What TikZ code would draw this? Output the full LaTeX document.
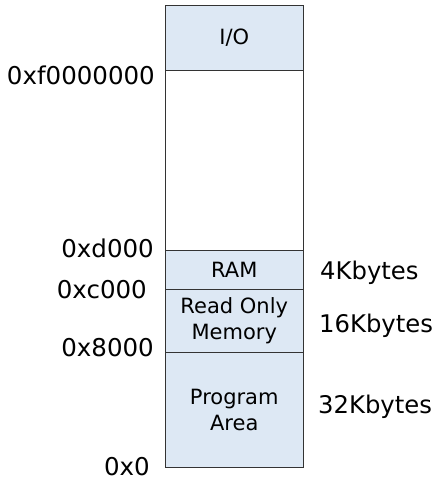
\documentclass[tikz,border=0pt]{standalone}
\usepackage{fontspec}
\setmainfont{DejaVu Sans}
\usepackage{xcolor}
\usepackage{tikz}
\usetikzlibrary{positioning}
\definecolor{memfill}{HTML}{DDE8F4}
\definecolor{memline}{HTML}{333333}

\tikzset{
  region/.style={rectangle, draw=memline, line width=0.9pt, fill=memfill, minimum width=137.5pt, inner sep=0pt, align=center, font=\fontsize{21}{26}\selectfont},
  addr/.style={anchor=east, inner sep=0pt, font=\fontsize{24.5}{28}\selectfont},
  size/.style={anchor=west, inner sep=0pt, font=\fontsize{24.3}{28}\selectfont}
}

\begin{document}
\begin{tikzpicture}[x=1pt, y=-1pt]
\useasboundingbox (0,0) rectangle (433,481);
% memory regions, top to bottom
\node[region, minimum height=65pt] (io) at (234.25,37.5) {I/O};
\node[region, fill=white, minimum height=180pt, below=-0.9pt of io] (free) {};
\node[region, minimum height=39.5pt, below=-0.9pt of free] (ram) {RAM};
\node[region, minimum height=62.5pt, below=-0.9pt of ram] (rom) {Read Only\\Memory};
\node[region, minimum height=115.5pt, below=-0.9pt of rom] (prog) {Program\\Area};
% addresses
\node[addr] (af) at (155,75) {0xf0000000};
\node[addr] (ad) at (154,248) {0xd000};
\node[addr] (ac) at (147,290) {0xc000};
\node[addr] (a8) at (154,348) {0x8000};
\node[addr] (a0) at (150,467) {0x0};
% sizes
\node[size] (s4) at (320,273) {4Kbytes};
\node[size] (s16) at (319,326) {16Kbytes};
\node[size] (s32) at (318,407) {32Kbytes};
\end{tikzpicture}
\end{document}
